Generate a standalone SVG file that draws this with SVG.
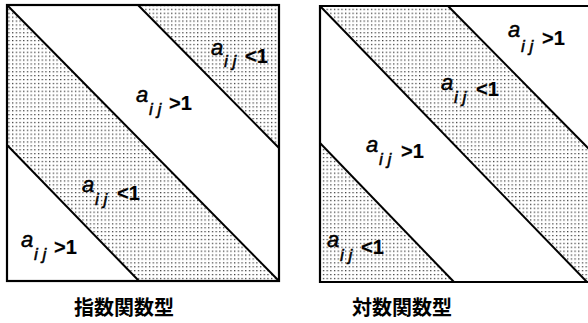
<svg xmlns="http://www.w3.org/2000/svg" width="588" height="323" viewBox="0 0 588 323">
<defs>
<pattern id="dots" patternUnits="userSpaceOnUse" width="3.7" height="3.9">
<rect x="1" y="1" width="1.2" height="1.2" fill="#222"/>
</pattern>
<style>
.sh{fill:url(#dots);stroke:none}
.ln{stroke:#000;stroke-width:2;fill:none}
.box{stroke:#000;stroke-width:2.2;fill:none}
text{font-family:"Liberation Sans",Arial,sans-serif;fill:#000;stroke:#000;stroke-width:0.5}
.a{font-style:italic;font-size:22px}
.s{font-style:italic;font-size:17px}
.r{font-size:20px;font-weight:bold;stroke-width:0.2}
.cap{font-family:"Noto Sans CJK JP","Noto Sans CJK SC",sans-serif;font-size:20px;font-weight:bold;stroke-width:0}
</style>
</defs>
<rect width="588" height="323" fill="#fff"/>
<g id="panel-left">
<polygon class="sh" points="138,5 279,5 279,148"/>
<polygon class="sh" points="7,5 279,281 139,281 7,145"/>
<g class="connectors">
<line class="ln" x1="138" y1="5" x2="279" y2="148"/>
<line class="ln" x1="7" y1="5" x2="279" y2="281"/>
<line class="ln" x1="7" y1="145" x2="139" y2="281"/>
</g>
<rect class="box" x="7" y="5" width="272" height="276"/>
<g id="L1"><text class="a" x="211" y="55">a</text><text class="s" x="224" y="67">i j</text><text class="r" x="245" y="63">&lt;1</text></g>
<g id="L2"><text class="a" x="136" y="102">a</text><text class="s" x="149" y="115">i j</text><text class="r" x="169" y="110">&gt;1</text></g>
<g id="L3"><text class="a" x="82" y="192">a</text><text class="s" x="95" y="205">i j</text><text class="r" x="117" y="200">&lt;1</text></g>
<g id="L4"><text class="a" x="21" y="247">a</text><text class="s" x="34" y="260">i j</text><text class="r" x="54" y="254">&gt;1</text></g>
<text id="cap-left" class="cap" x="124" y="315" text-anchor="middle">指数関数型</text>
</g>
<g id="panel-right">
<polygon class="sh" points="320,6 448,6 589,149 589,282 587,282"/>
<polygon class="sh" points="320,143 454,282 320,282"/>
<g class="connectors">
<line class="ln" x1="448" y1="6" x2="589" y2="149"/>
<line class="ln" x1="320" y1="6" x2="587" y2="282"/>
<line class="ln" x1="320" y1="143" x2="454" y2="282"/>
</g>
<path class="box" d="M590,6 H320 V282 H590"/>
<g id="R1"><text class="a" x="508" y="37">a</text><text class="s" x="521" y="52">i j</text><text class="r" x="542" y="45">&gt;1</text></g>
<g id="R2"><text class="a" x="441" y="90">a</text><text class="s" x="454" y="103">i j</text><text class="r" x="476" y="96">&lt;1</text></g>
<g id="R3"><text class="a" x="366" y="152">a</text><text class="s" x="379" y="165">i j</text><text class="r" x="401" y="158">&gt;1</text></g>
<g id="R4"><text class="a" x="327" y="247">a</text><text class="s" x="340" y="261">i j</text><text class="r" x="361" y="254">&lt;1</text></g>
<text id="cap-right" class="cap" x="402" y="315" text-anchor="middle">対数関数型</text>
</g>
</svg>
